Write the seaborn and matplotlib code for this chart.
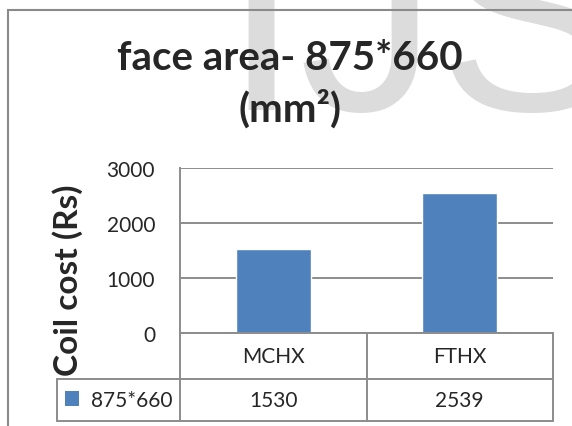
from matplotlib import pyplot as plt
from matplotlib.patches import Rectangle
from matplotlib.transforms import blended_transform_factory
import seaborn as sns

categories = ['MCHX', 'FTHX']
coil_cost = [1530, 2539]
series_name = '875*660'
title_lines = ['face area- 875*660', '(mm²)']
y_label = 'Coil cost (Rs)'
y_ticks = [0, 1000, 2000, 3000]

BAR_COLOR = '#4F81BD'
LINE_COLOR = '#8c8c8c'
W, H = 572, 427

sns.set_style('white')
plt.rcParams['font.family'] = ['Lato', 'DejaVu Sans']

fig = plt.figure(figsize=(W / 100, H / 100), dpi=100)
ax = fig.add_axes([180 / W, 1 - 334 / H, 373 / W, 165 / H])

# watermark behind the chart
fig.text(222 / W, 1 - 110 / H, 'IJS', fontsize=200, color='#dcdcdc',
         family='Liberation Sans', ha='left', va='baseline', zorder=0)

# outer chart frame
fig.patches.append(Rectangle((8 / W, -0.1), 1.2, 1 - 11 / H + 0.1, transform=fig.transFigure,
                             fill=False, edgecolor='#8a8a8a', linewidth=1.5, zorder=1))

ax.patch.set_alpha(0)
sns.barplot(x=categories, y=coil_cost, color=BAR_COLOR, saturation=1, width=0.4, ax=ax, zorder=3)

ax.set_xlim(-0.5, len(categories) - 0.5)
ax.set_ylim(0, 3000)
ax.set_yticks(y_ticks)
ax.set_yticklabels([str(t) for t in y_ticks], fontsize=15)
ax.tick_params(axis='y', length=0, pad=18)
ax.tick_params(axis='x', length=0, labelbottom=False)
ax.yaxis.grid(True, color=LINE_COLOR, linewidth=1.4)
ax.set_axisbelow(True)
for s in ['top', 'right', 'bottom']:
    ax.spines[s].set_visible(False)
ax.spines['left'].set_color(LINE_COLOR)
ax.spines['left'].set_linewidth(1.4)

ax.set_ylabel(y_label, fontsize=24, fontweight='bold')
ax.yaxis.set_label_coords(-0.26, 0.324)

# data table under the axes: x in category units, y in axes units
tr = blended_transform_factory(ax.transData, ax.transAxes)
n = len(categories)
x_left = -0.5 - 123 / 186.5
y_head = -46 / 165
y_bot = -88 / 165
line_kw = dict(color=LINE_COLOR, linewidth=1.4, transform=tr, clip_on=False, zorder=4)
ax.plot([-0.5, n - 0.5], [0, 0], **line_kw)
for y in [y_head, y_bot]:
    ax.plot([x_left, n - 0.5], [y, y], **line_kw)
ax.plot([x_left, x_left], [y_head, y_bot], **line_kw)
for i in range(n + 1):
    ax.plot([i - 0.5, i - 0.5], [0, y_bot], **line_kw)
for i, (cat, val) in enumerate(zip(categories, coil_cost)):
    ax.text(i, y_head / 2, cat, transform=tr, ha='center', va='center', fontsize=15)
    ax.text(i, (y_head + y_bot) / 2, str(val), transform=tr, ha='center', va='center', fontsize=15)
ax.text(-0.5 - 8 / 186.5, (y_head + y_bot) / 2, series_name, transform=tr,
        ha='right', va='center', fontsize=15)

# legend key in the row label cell
fig.patches.append(Rectangle((65 / W, 1 - 407 / H), 14 / W, 15 / H, transform=fig.transFigure,
                             facecolor=BAR_COLOR, edgecolor='none', zorder=5))

fig.text(290 / W, 1 - 70 / H, title_lines[0], fontsize=29, fontweight='bold',
         ha='center', va='baseline')
fig.text(290 / W, 1 - 122 / H, title_lines[1], fontsize=29, fontweight='bold',
         ha='center', va='baseline')

fig.savefig('out.png', dpi=100)
